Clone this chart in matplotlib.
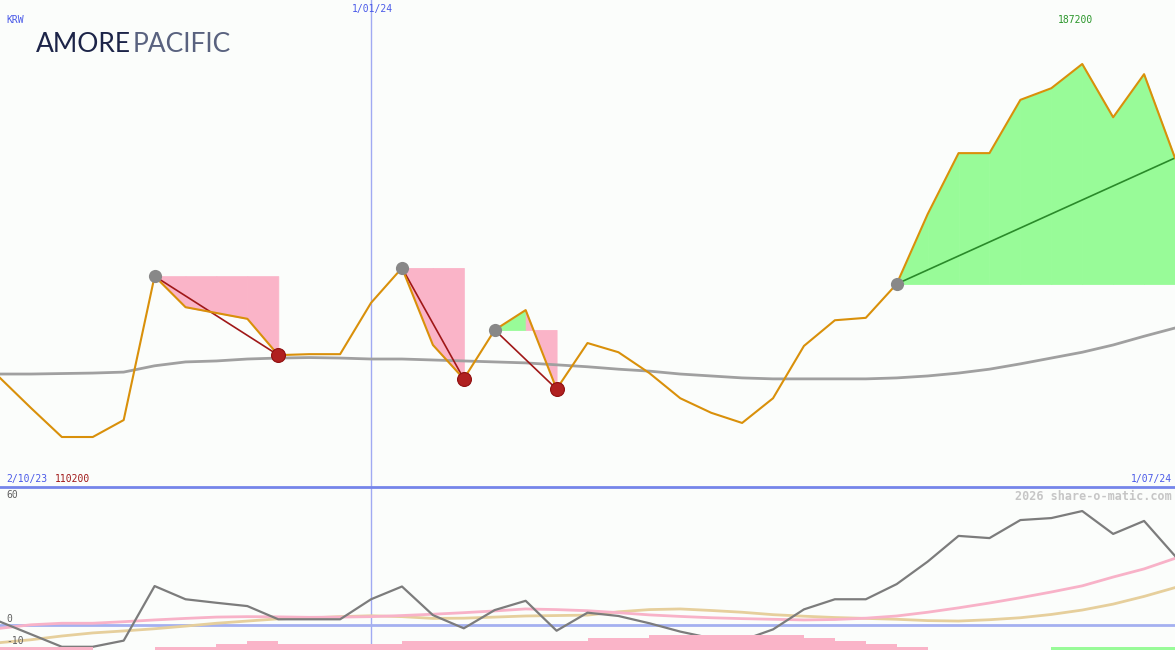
"""AMOREPACIFIC weekly price chart with swing patterns and a lower
momentum panel, share-o-matic style."""
import numpy as np
import matplotlib
matplotlib.use('Agg')
import matplotlib.pyplot as plt

# weekly closes, 2/10/23 .. 1/07/24 (KRW)
weeks = list(range(39))
price = [122400, 116200, 110200, 110200, 113700, 143400, 137000, 135800,
         134600, 127100, 127300, 127300, 137900, 145100, 129200, 122200,
         132300, 136400, 120100, 129600, 127700, 123400, 118200, 115200,
         113100, 118200, 129000, 134300, 134800, 141800, 156200, 168800,
         168800, 179800, 182200, 187200, 176200, 185100, 167800]
# long moving average (grey)
trend = [123200, 123200, 123300, 123400, 123600, 124900, 125700, 125900,
         126300, 126500, 126600, 126500, 126300, 126300, 126100, 125900,
         125700, 125500, 125100, 124700, 124200, 123800, 123200, 122800,
         122400, 122200, 122200, 122200, 122200, 122400, 122800, 123400,
         124200, 125300, 126500, 127700, 129200, 131000, 132700]

# lower panel (percent)
momentum = [1.5, -4.2, -9.9, -9.9, -7.1, 17.7, 11.7, 10.1, 8.6, 2.6, 2.6,
            2.6, 11.7, 17.5, 4.5, -1.5, 6.8, 11.0, -2.6, 5.6, 4.1, 0.8,
            -3.0, -6.0, -7.0, -2.0, 7.1, 11.7, 11.7, 18.6, 28.8, 40.5,
            39.5, 47.7, 48.6, 51.8, 41.4, 47.3, 31.4]
pink_avg = [-1.5, 0.1, 0.8, 0.8, 1.5, 2.3, 3.0, 3.6, 3.8, 3.7, 3.5, 3.6,
            3.8, 4.3, 4.9, 5.6, 6.4, 7.3, 7.0, 6.5, 5.6, 4.6, 3.9, 3.3,
            2.9, 2.6, 2.3, 2.5, 3.1, 4.1, 5.8, 7.8, 10.0, 12.4, 15.0, 17.8,
            21.8, 25.5, 30.3]
tan_avg = [-8.0, -6.7, -5.0, -3.6, -2.7, -1.7, -0.5, 0.8, 1.8, 2.8, 3.2,
           3.8, 4.2, 3.8, 3.0, 3.1, 3.6, 4.1, 4.3, 4.5, 6.0, 7.0, 7.3, 6.6,
           5.8, 4.7, 4.0, 3.4, 3.0, 2.6, 2.0, 1.8, 2.4, 3.3, 4.8, 6.8, 9.5,
           13.0, 17.0]
# bottom strip, one value per week (negative = pink, positive = green)
strip = [-1, -1, -1, 0, 0, -1, -1, -2, -3, -2, -2, -2, -2, -3, -3, -3, -3,
         -3, -3, -4, -4, -5, -5, -5, -5, -5, -4, -3, -2, -1, 0, 0, 0, 0,
         1, 1, 1, 1]

# swings: start week (grey dot) -> end week
swing_start = [5, 13, 16, 29]
swing_end = [9, 15, 18, 38]
swing_up = [False, False, False, True]

date_left, date_mid, date_right = '2/10/23', '1/01/24', '1/07/24'
mid_week = 12

BG = '#fbfdfb'
ORANGE = '#d9900a'
PINK = '#fab4c8'
GREEN = '#98fb98'
BLUE_LINE = '#a0aaf2'

W, H = 1175, 650
fig = plt.figure(figsize=(W / 100, H / 100), dpi=100, facecolor=BG)
ax = fig.add_axes([0, (H - 487) / H, 1, 487 / H])
ax2 = fig.add_axes([0, 0, 1, (H - 488) / H])
for a in (ax, ax2):
    a.set_facecolor(BG)
    a.set_xlim(0, 38)
    a.set_xticks([])
    a.set_yticks([])
    for s in a.spines.values():
        s.set_visible(False)

ax.set_ylim(99880, 200410)

# swing fills and connectors
for s, e, up in zip(swing_start, swing_end, swing_up):
    level = price[s]
    for i in range(s, e):
        c = GREEN if price[i + 1] >= level else PINK
        ax.fill_between([i, i + 1], [price[i], price[i + 1]], level,
                        facecolor=c, edgecolor=c, lw=0.6, zorder=1)
    if up:
        ax.plot([s, e], [level, price[e]], color='#2a8a2a', lw=1.2, zorder=3)
    else:
        ax.plot([s, e], [level, price[e]], color='#a01818', lw=1.2, zorder=3)

ax.axvline(mid_week, color=BLUE_LINE, lw=1, zorder=0)
ax.plot(weeks, trend, color='#a0a0a0', lw=2, zorder=2)
ax.plot(weeks, price, color=ORANGE, lw=1.5, zorder=4)

ax.scatter(swing_start, [price[i] for i in swing_start], s=90,
           color='#888888', zorder=5, lw=0)
ends = [e for e, up in zip(swing_end, swing_up) if not up]
ax.scatter(ends, [price[i] for i in ends], s=100, color='#b02020',
           edgecolor='#901010', lw=0.8, zorder=5)

# lower panel
ax2.set_ylim(-11.36, 62.27)
ax2.axvline(mid_week, color=BLUE_LINE, lw=1, zorder=0)
ax2.axhline(0, color='#a4b0f0', lw=2, zorder=1)
ax2.plot(weeks, tan_avg, color='#e6cf9c', lw=2, zorder=2)
ax2.plot(weeks, pink_avg, color='#f8b2c8', lw=2, zorder=2)
ax2.plot(weeks, momentum, color='#7c7c7c', lw=1.6, zorder=3)

ax3 = ax2.twinx()
ax3.set_ylim(0, 54)
ax3.set_axis_off()
ax3.bar(weeks[:-1], [abs(v) for v in strip], width=1, align='edge',
        color=[GREEN if v > 0 else PINK for v in strip], lw=0)

# separator line
fig.add_artist(plt.Line2D([0, 1], [(H - 487) / H] * 2, color='#7585ea',
                          lw=2, transform=fig.transFigure))

mono = 'DejaVu Sans Mono'


def ftext(x, y, s, **kw):
    fig.text(x / W, 1 - y / H, s, family=mono, fontsize=7, va='center', **kw)


ftext(6, 20, 'KRW', color='#4a5ae8')
ftext(372, 9, date_mid, color='#4a5ae8', ha='center')
ftext(1058, 20, f'{max(price)}', color='#2a962a')
ftext(6, 479, date_left, color='#4a5ae8')
ftext(55, 479, f'{min(price)}', color='#a01818')
ftext(1172, 479, date_right, color='#4a5ae8', ha='right')
ftext(6, 495, '60', color='#606060')
ftext(6, 619, '0', color='#606060')
ftext(6, 641, '-10', color='#606060')
fig.text(1172 / W, 1 - 496 / H, '2026 share-o-matic.com', family=mono,
         fontsize=8.5, fontweight='bold', color='#c6c6c6', ha='right',
         va='center')

# logo
fig.text(36 / W, 1 - 45 / H, 'AMORE', family='Lato', fontsize=19,
         color='#1c2448', va='center')
fig.text(133 / W, 1 - 45 / H, 'PACIFIC', family='Lato', fontsize=19,
         color='#59627f', va='center')

fig.savefig('out.png', dpi=100, facecolor=BG)
